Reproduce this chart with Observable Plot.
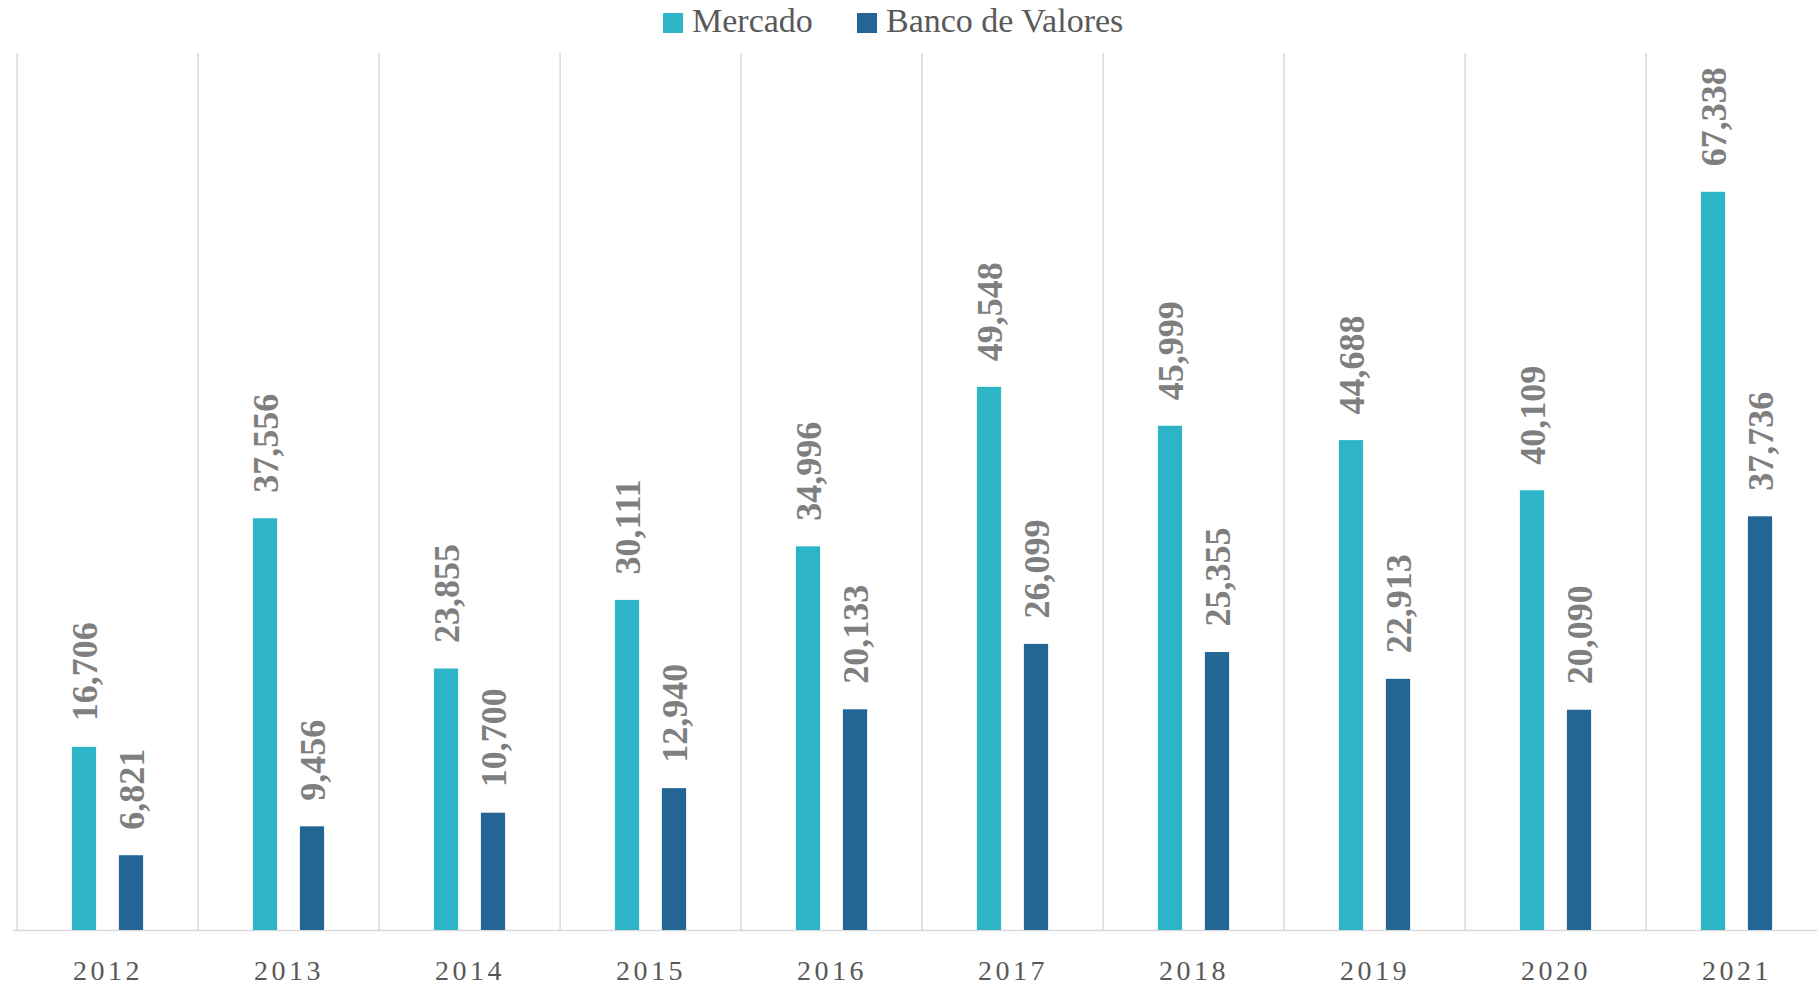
<!DOCTYPE html>
<html>
<head>
<meta charset="utf-8">
<script src="https://cdn.jsdelivr.net/npm/d3@7"></script>
<script src="https://cdn.jsdelivr.net/npm/@observablehq/plot@0.6"></script>
<style>
  html, body { margin: 0; padding: 0; background: #fff; overflow: hidden; }
  #legend { display: block; }
  #chart svg { display: block; max-width: none !important; }
</style>
</head>
<body>
<svg id="legend" width="1817" height="45"></svg>
<div id="chart"></div>
<script>
const years = ["2012","2013","2014","2015","2016","2017","2018","2019","2020","2021"];
const mercado = [16706, 37556, 23855, 30111, 34996, 49548, 45999, 44688, 40109, 67338];
const banco = [6821, 9456, 10700, 12940, 20133, 26099, 25355, 22913, 20090, 37736];
const seriesNames = ["Mercado", "Banco de Valores"];
const seriesColors = ["#2db5c7", "#236594"];

const rows = years.map((y, i) => ({year: y, mercado: mercado[i], banco: banco[i]}));
const fmt = d3.format(",");

const W = 1831, H = 941, ML = 13, MR = 0, MT = 8, MB = 56;
const bw = (W - ML - MR) / years.length;
const barW = 25;
const inset = (bw - barW) / 2;
const off = 23.5;
const labelFont = "'Liberation Serif', 'Times New Roman', serif";

const chart = Plot.plot({
  width: W,
  height: H,
  marginLeft: ML,
  marginRight: MR,
  marginTop: MT,
  marginBottom: MB,
  style: {fontFamily: labelFont, background: "white", overflow: "visible", maxWidth: "none"},
  x: {type: "band", domain: years, padding: 0, axis: null},
  y: {domain: [0, 80000], axis: null},
  marks: [
    Plot.ruleX(years, {x: d => d, y1: 0, y2: 80000, dx: -bw / 2, stroke: "#d9d9d9", strokeWidth: 1.5}),
    Plot.ruleY([0], {stroke: "#d9d9d9", strokeWidth: 1.5}),
    Plot.barY(rows, {x: "year", y: "mercado", fill: seriesColors[0], insetLeft: inset, insetRight: inset, dx: -off}),
    Plot.barY(rows, {x: "year", y: "banco", fill: seriesColors[1], insetLeft: inset, insetRight: inset, dx: off}),
    Plot.text(rows, {x: "year", y: "mercado", text: d => fmt(d.mercado), rotate: -90, textAnchor: "start", lineAnchor: "middle", dx: -off + 1, dy: -26, fontSize: 36, fontWeight: "bold", fill: "#7f7f7f"}),
    Plot.text(rows, {x: "year", y: "banco", text: d => fmt(d.banco), rotate: -90, textAnchor: "start", lineAnchor: "middle", dx: off + 1, dy: -26, fontSize: 36, fontWeight: "bold", fill: "#7f7f7f"}),
    Plot.text(years, {x: d => d, frameAnchor: "bottom", text: d => d, lineAnchor: "bottom", dy: 49, fontSize: 28, fill: "#595959"})
  ]
});
chart.style.maxWidth = "none";
document.getElementById("chart").appendChild(chart);
const textGroups = chart.querySelectorAll('g[aria-label="text"]');
if (textGroups.length) textGroups[textGroups.length - 1].setAttribute("letter-spacing", "3.5");

// Legend
const leg = d3.select("#legend");
const items = [{x: 663, name: seriesNames[0], color: seriesColors[0]}, {x: 857, name: seriesNames[1], color: seriesColors[1]}];
for (const it of items) {
  leg.append("rect").attr("x", it.x).attr("y", 13).attr("width", 20).attr("height", 20).attr("fill", it.color);
  leg.append("text").attr("x", it.x + 29).attr("y", 32).attr("font-family", labelFont).attr("font-size", 34).attr("fill", "#595959").text(it.name);
}
</script>
</body>
</html>
